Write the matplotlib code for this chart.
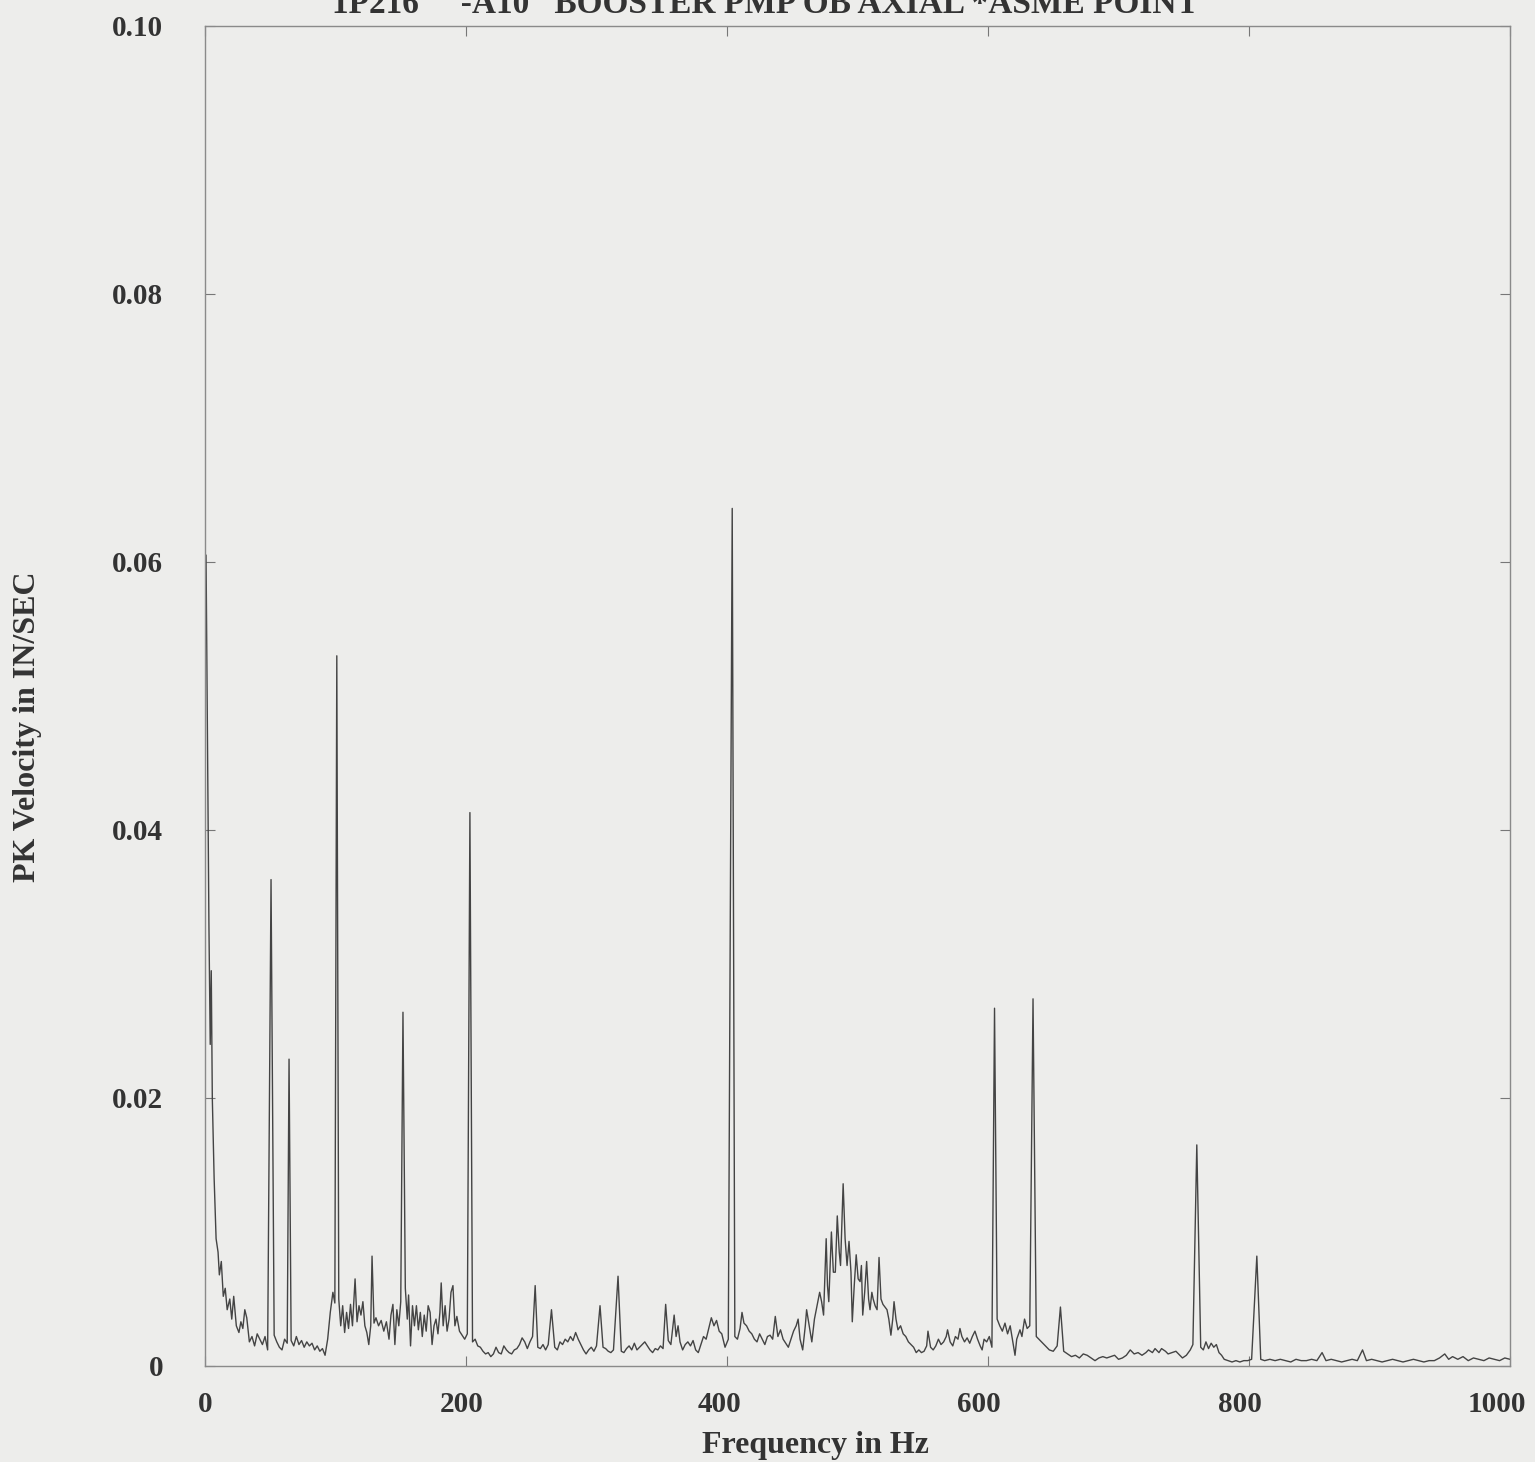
import numpy as np
import matplotlib.pyplot as plt
import matplotlib.transforms as mtransforms

# background spectrum (Hz, PK velocity IN/SEC)
floor_hz = [0.8, 2.0, 3.0, 4.0, 4.8, 5.6, 7, 8.5, 10, 11, 12.5, 14, 15.5, 17, 19, 20.5, 22, 24, 26, 27.5,
            29, 30.5, 32, 34, 36, 38, 40, 42, 44, 46, 48, 53, 55, 57, 59, 61, 63, 66, 68, 70,
            72, 74, 76, 78, 80, 82, 84, 86, 88, 90, 92, 94, 96, 98, 99.5, 102.5, 104, 105.5, 107, 108.5,
            110, 111.5, 113, 115, 116.5, 118, 119.5, 121, 122.5, 124, 125.5, 127, 128, 129.5, 131, 133, 135, 137, 139, 141,
            142.5, 144, 145.5, 147, 148.5, 150, 153.5, 155, 156, 157.5, 159, 160.5, 162, 163.5, 165, 166.5, 168, 169.5, 171, 172.5,
            174, 175.5, 177, 178.5, 180, 181, 182.5, 184, 185.5, 187, 188.5, 190, 191.5, 193, 195, 197, 199, 201, 205, 207,
            209, 211, 213, 215, 217, 219, 221, 223, 225, 227, 229, 231, 233, 235, 237, 239, 241, 243, 245, 247,
            249, 251, 253, 255, 257, 259, 261, 263, 265.5, 268, 270, 272, 274, 276, 278, 280, 282, 284, 286, 288,
            290, 292, 294, 296, 298, 300, 302.7, 305, 307, 309, 311, 313, 316.5, 319, 321, 323, 325, 327, 329, 331,
            333, 335, 337, 339, 341, 343, 345, 347, 349, 351, 353, 355, 357, 359.5, 361, 362.5, 364, 366, 368, 370,
            372, 374, 376, 378, 380, 382, 384, 386, 388, 390, 392, 394, 396, 398.5, 401, 406, 408, 410, 411.5, 413,
            415, 417, 419, 421, 423, 425, 427, 429, 431, 433, 435, 437, 439, 441, 443, 445, 447, 449, 451, 453,
            454.5, 456, 458, 460, 461, 463, 465, 467, 469, 471, 472.5, 474, 476, 477, 478, 480, 481.5, 483, 484.5, 486,
            487, 489, 490.5, 492, 493.5, 495, 496, 497.5, 499, 500.5, 502, 503, 504, 505.5, 507, 508.5, 509.6, 511, 512, 513.5,
            515, 516.5, 518, 519.5, 521, 522.6, 524, 525.6, 527, 528, 529.5, 531, 533, 535, 537, 539, 541, 543, 545, 547,
            549, 551, 553, 554, 556, 558, 560, 562, 564, 566, 568, 569, 571, 573, 575, 577, 578.5, 580, 582, 584,
            586, 588, 590, 592, 594, 595.5, 597, 599, 601, 603, 607, 609, 611, 613, 615, 617, 619, 620.7, 622, 624.5,
            626, 628, 630, 632, 637, 639, 641, 643, 645, 647, 650, 653, 655.5, 658, 661, 664, 667, 670, 673, 676,
            679, 682, 685, 688, 691, 694, 697, 700, 703, 706, 709, 712, 715, 718, 721, 723, 726, 728, 731, 733,
            736, 738, 741, 744, 747, 749, 752, 755, 757, 763, 765, 767, 769, 771, 773, 775, 777, 779, 781, 784,
            787, 790, 793, 796, 799, 802, 809, 812, 816, 820, 824, 828, 832, 836, 840, 844, 848, 852, 856, 859,
            863, 867, 871, 875, 879, 883, 887, 890, 894, 898, 902, 906, 910, 914, 918, 922, 926, 930, 934, 938,
            942, 946, 950, 953, 956, 960, 964, 968, 972, 976, 980, 984, 988, 992, 996, 1000]
floor_vel = [0.0605, 0.045, 0.033, 0.024, 0.0295, 0.020, 0.014, 0.0095, 0.0085, 0.0068, 0.0078, 0.0052, 0.0058, 0.0042, 0.0050, 0.0035, 0.0052, 0.0030, 0.0025, 0.0033,
             0.0028, 0.0042, 0.0036, 0.0018, 0.0022, 0.0015, 0.0024, 0.0020, 0.0016, 0.0022, 0.0012, 0.0023, 0.0018, 0.0014, 0.0012, 0.0020, 0.0017, 0.0019, 0.0015, 0.0022,
             0.0016, 0.0019, 0.0014, 0.0018, 0.0015, 0.0017, 0.0012, 0.0015, 0.0011, 0.0013, 0.0008, 0.0020, 0.0040, 0.0055, 0.0047, 0.0050, 0.0030, 0.0045, 0.0025, 0.0040,
             0.0028, 0.0046, 0.0030, 0.0065, 0.0033, 0.0045, 0.0038, 0.0048, 0.0030, 0.0025, 0.0016, 0.0030, 0.0082, 0.0032, 0.0036, 0.0030, 0.0034, 0.0026, 0.0033, 0.0020,
             0.0038, 0.0046, 0.0016, 0.0042, 0.0030, 0.0048, 0.0058, 0.0035, 0.0053, 0.0015, 0.0045, 0.0030, 0.0045, 0.0027, 0.0040, 0.0022, 0.0038, 0.0026, 0.0045, 0.0040,
             0.0016, 0.0030, 0.0035, 0.0024, 0.0040, 0.0062, 0.0030, 0.0045, 0.0026, 0.0035, 0.0055, 0.0060, 0.0030, 0.0037, 0.0026, 0.0023, 0.0020, 0.0024, 0.0018, 0.0020,
             0.0015, 0.0014, 0.0011, 0.0009, 0.0010, 0.0007, 0.0009, 0.0014, 0.0010, 0.0009, 0.0015, 0.0012, 0.0010, 0.0009, 0.0012, 0.0013, 0.0016, 0.0021, 0.0018, 0.0013,
             0.0018, 0.0022, 0.0060, 0.0014, 0.0013, 0.0016, 0.0012, 0.0016, 0.0042, 0.0014, 0.0012, 0.0018, 0.0016, 0.0020, 0.0018, 0.0022, 0.0019, 0.0025, 0.0020, 0.0016,
             0.0012, 0.0009, 0.0012, 0.0014, 0.0011, 0.0015, 0.0045, 0.0014, 0.0013, 0.0011, 0.0010, 0.0012, 0.0067, 0.0011, 0.0010, 0.0013, 0.0015, 0.0012, 0.0017, 0.0012,
             0.0014, 0.0016, 0.0018, 0.0015, 0.0012, 0.0010, 0.0013, 0.0012, 0.0015, 0.0013, 0.0046, 0.0019, 0.0016, 0.0038, 0.0022, 0.0030, 0.0018, 0.0012, 0.0016, 0.0018,
             0.0015, 0.0019, 0.0012, 0.0010, 0.0016, 0.0022, 0.0020, 0.0028, 0.0036, 0.0030, 0.0034, 0.0026, 0.0024, 0.0014, 0.0020, 0.0022, 0.0020, 0.0028, 0.0040, 0.0032,
             0.0030, 0.0026, 0.0024, 0.0020, 0.0018, 0.0024, 0.0020, 0.0016, 0.0022, 0.0023, 0.0020, 0.0037, 0.0022, 0.0027, 0.0020, 0.0017, 0.0014, 0.0020, 0.0026, 0.0030,
             0.0035, 0.0020, 0.0012, 0.0030, 0.0042, 0.0030, 0.0018, 0.0035, 0.0045, 0.0055, 0.0048, 0.0038, 0.0095, 0.0060, 0.0048, 0.0100, 0.0070, 0.0070, 0.0112, 0.0085,
             0.0075, 0.0136, 0.0095, 0.0075, 0.0093, 0.0070, 0.0033, 0.0060, 0.0083, 0.0065, 0.0063, 0.0075, 0.0038, 0.0055, 0.0078, 0.0050, 0.0042, 0.0055, 0.0050, 0.0045,
             0.0042, 0.0081, 0.0050, 0.0046, 0.0044, 0.0042, 0.0035, 0.0023, 0.0035, 0.0048, 0.0035, 0.0027, 0.0030, 0.0024, 0.0022, 0.0018, 0.0016, 0.0014, 0.0010, 0.0012,
             0.0010, 0.0011, 0.0015, 0.0026, 0.0014, 0.0012, 0.0015, 0.0020, 0.0016, 0.0018, 0.0022, 0.0027, 0.0018, 0.0015, 0.0022, 0.0020, 0.0028, 0.0022, 0.0018, 0.0021,
             0.0017, 0.0022, 0.0026, 0.0020, 0.0015, 0.0012, 0.0020, 0.0018, 0.0022, 0.0014, 0.0035, 0.0030, 0.0026, 0.0032, 0.0024, 0.0030, 0.0018, 0.0008, 0.0020, 0.0027,
             0.0022, 0.0035, 0.0028, 0.0030, 0.0022, 0.0020, 0.0018, 0.0016, 0.0014, 0.0012, 0.0011, 0.0015, 0.0044, 0.0011, 0.0009, 0.0007, 0.0008, 0.0006, 0.0009, 0.0008,
             0.0006, 0.0004, 0.0006, 0.0007, 0.0006, 0.0007, 0.0008, 0.0005, 0.0006, 0.0008, 0.0012, 0.0009, 0.0010, 0.0008, 0.0010, 0.0012, 0.0010, 0.0013, 0.0010, 0.0013,
             0.0011, 0.0009, 0.0010, 0.0011, 0.0008, 0.0006, 0.0008, 0.0012, 0.0016, 0.0014, 0.0012, 0.0018, 0.0013, 0.0017, 0.0014, 0.0016, 0.0010, 0.0008, 0.0005, 0.0004,
             0.0003, 0.0004, 0.0003, 0.0004, 0.0004, 0.0005, 0.0005, 0.0004, 0.0005, 0.0004, 0.0005, 0.0004, 0.0003, 0.0005, 0.0004, 0.0004, 0.0005, 0.0004, 0.0010, 0.0004,
             0.0005, 0.0004, 0.0003, 0.0004, 0.0005, 0.0004, 0.0012, 0.0004, 0.0005, 0.0004, 0.0003, 0.0004, 0.0005, 0.0004, 0.0003, 0.0004, 0.0005, 0.0004, 0.0003, 0.0004,
             0.0004, 0.0006, 0.0009, 0.0005, 0.0007, 0.0005, 0.0007, 0.0004, 0.0006, 0.0005, 0.0004, 0.0006, 0.0005, 0.0004, 0.0006, 0.0005]

# discrete spectral lines
peak_hz = [50.6, 64.4, 101.0, 151.7, 203.0, 404.0, 605.0, 634.5, 760.0, 806.0]
peak_vel = [0.0363, 0.0229, 0.0530, 0.0264, 0.0413, 0.0640, 0.0267, 0.0274, 0.0165, 0.0082]

x_ticks = [0, 200, 400, 600, 800, 1000]
y_ticks = [0, 0.02, 0.04, 0.06, 0.08, 0.10]
y_labels = ['0', '0.02', '0.04', '0.06', '0.08', '0.10']

freq = np.array(floor_hz + peak_hz)
vel = np.array(floor_vel + peak_vel)
order = np.argsort(freq)

bg = '#ededeb'
ink = '#333333'
plt.rcParams['font.family'] = ['Liberation Serif', 'DejaVu Serif']

fig = plt.figure(figsize=(15.35, 14.62), dpi=100, facecolor=bg)
ax = fig.add_axes([205 / 1535, 1 - 1366 / 1462, 1305 / 1535, 1340 / 1462])
ax.set_facecolor(bg)

ax.plot(freq[order], vel[order], color='#444444', linewidth=1.0)

ax.set_xlim(0, 1000)
ax.set_ylim(0, 0.10)
ax.set_xticks(x_ticks)
ax.set_yticks(y_ticks)
ax.set_yticklabels(y_labels)
ax.tick_params(direction='in', length=7, width=0.8, color='#777777',
               top=True, right=True, labelsize=21, labelcolor=ink)
ax.tick_params(axis='y', pad=30)
ax.tick_params(axis='x', pad=18)
for lab in ax.get_xticklabels() + ax.get_yticklabels():
    lab.set_fontweight('bold')

# the scanned x labels sit a little left of their ticks
x_shift_px = [0, -4, -7, -9, -9, -13]
for lab, dx in zip(ax.get_xticklabels(), x_shift_px):
    lab.set_transform(lab.get_transform() + mtransforms.Affine2D().translate(dx, 0))

for s in ax.spines.values():
    s.set_color('#8a8a8a')
    s.set_linewidth(1.0)

fig.text(815 / 1535, 1 - 1445 / 1462, 'Frequency in Hz', fontsize=23, fontweight='bold',
         color=ink, ha='center', va='center')
fig.text(28 / 1535, 1 - 727 / 1462, 'PK Velocity in IN/SEC', rotation=90, fontsize=23,
         fontweight='bold', color=ink, ha='center', va='center')
fig.text(765 / 1535, 1 - 13 / 1462, '1P216     -A10   BOOSTER PMP OB AXIAL *ASME POINT',
         fontsize=24, fontweight='bold', color=ink, ha='center', va='baseline')

fig.savefig('out.png', dpi=100, facecolor=bg)
